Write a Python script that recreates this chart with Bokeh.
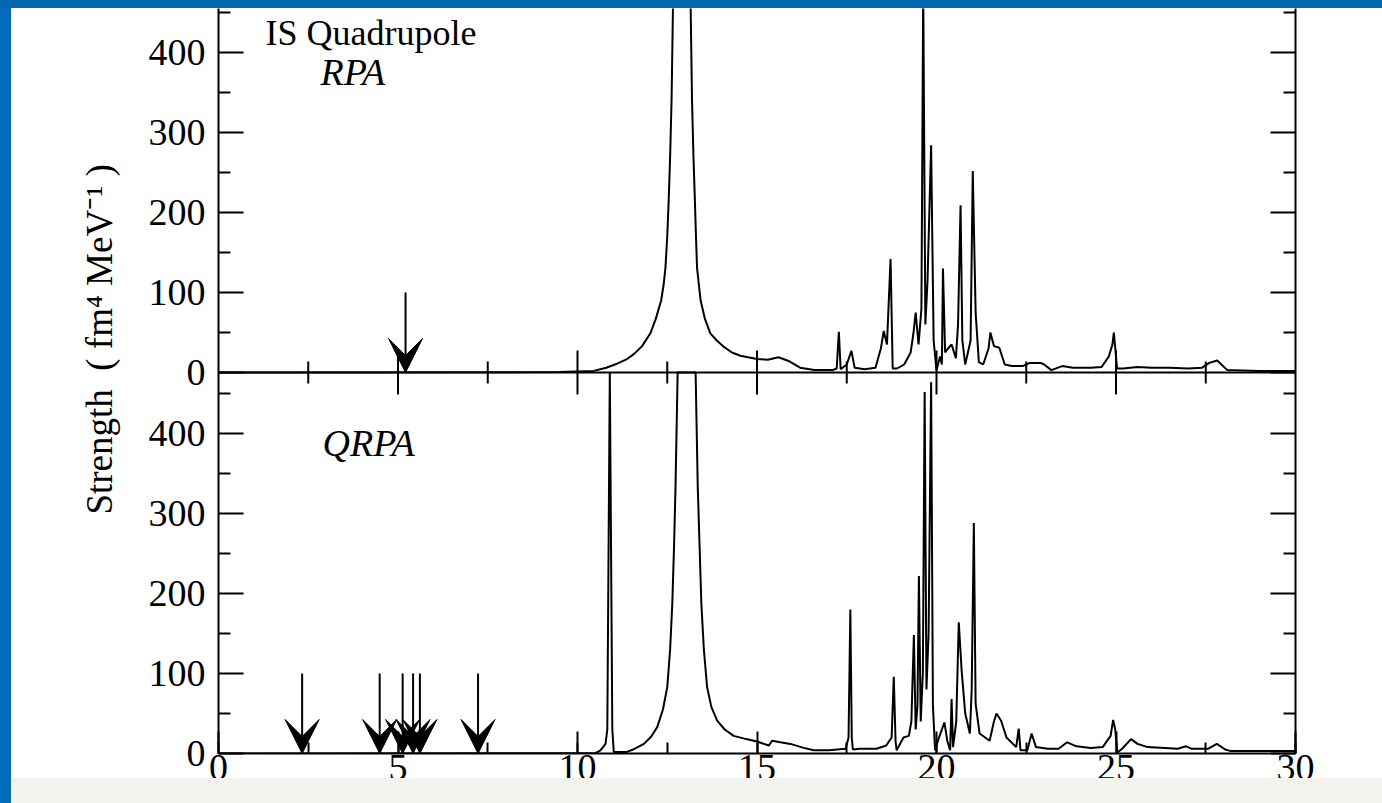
import numpy as np
from bokeh.plotting import figure
from bokeh.layouts import column, row
from bokeh.models import (Range1d, LinearAxis, FixedTicker, SingleIntervalTicker, Span,
                          Arrow, VeeHead, Label, Div)
from bokeh.embed import file_html
from bokeh.resources import INLINE

# ---------------- data ----------------
rpa_x = [0.0, 9.5, 10.45, 10.8, 11.10, 11.35, 11.57, 11.8, 12.03, 12.18, 12.33, 12.40,
         12.45, 12.50, 12.54, 12.58, 12.62, 12.91,
         13.19, 13.23, 13.27, 13.30, 13.33, 13.38, 13.43, 13.55, 13.70, 13.88, 14.08,
         14.3, 14.54, 14.75, 15.0, 15.3, 15.6, 15.9,
         16.2, 16.6, 17.1, 17.22, 17.28, 17.33, 17.5, 17.63, 17.72, 18.0, 18.3,
         18.45, 18.53, 18.62, 18.72, 18.78, 18.9, 19.1, 19.28, 19.36, 19.42, 19.5,
         19.58, 19.63, 19.69, 19.75, 19.85, 19.92, 20.0, 20.1, 20.15, 20.18, 20.24,
         20.32, 20.42, 20.54, 20.6, 20.67, 20.72, 20.8, 20.95, 21.01, 21.09, 21.18,
         21.3, 21.45, 21.5, 21.6, 21.75, 21.9, 22.1, 22.4, 22.6, 22.9, 23.0, 23.2,
         23.5, 23.8, 24.3, 24.6, 24.8, 24.9, 24.94, 24.98, 25.03, 25.2, 25.4, 25.6,
         26.0, 26.5, 27.0, 27.4, 27.6, 27.82, 28.1, 29.0, 30.0]
rpa_y = [0, 0.5, 2, 6, 11, 16, 23, 33, 49, 67, 90, 110,
         131, 170, 215, 270, 340, 1200,
         340, 270, 215, 170, 131, 110, 90, 67, 49, 40, 32,
         25, 21, 19, 17, 16, 19, 14,
         6, 3, 3, 5, 51, 4, 10, 27, 6, 4, 6,
         30, 52, 35, 142, 5, 5, 10, 25, 50, 75, 35,
         80, 480, 60, 115, 284, 40, 3, 20, 10, 130, 25,
         30, 35, 18, 60, 209, 40, 10, 40, 252, 75, 13,
         10, 30, 50, 33, 31, 10, 8, 8, 12, 12, 10, 3,
         8, 6, 6, 7, 20, 35, 50, 30, 5, 5, 6, 7,
         6, 6, 5, 6, 12, 15, 3, 2, 2]

qrpa_x = [0.0, 10.5, 10.64, 10.78, 10.83, 10.90, 10.97, 11.01, 11.38, 11.6, 11.85,
          12.05, 12.22, 12.38, 12.5, 12.58, 12.64, 12.69, 12.73, 12.79, 13.04,
          13.29, 13.35, 13.40, 13.45, 13.52, 13.61, 13.73, 13.89, 14.1, 14.35, 14.7,
          15.0, 15.33, 15.42, 15.65, 15.93, 16.3, 16.58, 17.0, 17.47, 17.55, 17.60,
          17.64, 17.67, 17.86, 18.33, 18.6, 18.75, 18.81, 18.86, 18.89, 19.08, 19.23,
          19.3, 19.37, 19.42, 19.47, 19.51, 19.56, 19.62, 19.67, 19.72, 19.78, 19.85,
          19.9, 19.96, 20.07, 20.22, 20.3, 20.38, 20.42, 20.46, 20.55, 20.62, 20.7,
          20.8, 20.93, 20.98, 21.04, 21.09, 21.2, 21.48, 21.6, 21.67, 21.8, 21.95,
          22.22, 22.29, 22.34, 22.53, 22.65, 22.77, 23.1, 23.4, 23.64, 23.9, 24.3,
          24.63, 24.85, 24.92, 24.98, 25.03, 25.17, 25.42, 25.6, 25.88, 26.72, 26.95,
          27.1, 27.57, 27.81, 28.04, 28.2, 30.0]
qrpa_y = [0, 0.5, 4, 12, 30, 700, 30, 2, 2, 6, 12,
          21, 33, 55, 83, 130, 187, 260, 333, 479, 1500,
          479, 333, 260, 187, 130, 83, 58, 41, 30, 22, 18,
          15, 10, 16, 14, 12, 7, 4, 4, 6, 20, 180,
          20, 5, 6, 6, 10, 20, 96, 15, 4, 20, 22,
          40, 148, 30, 60, 222, 40, 100, 452, 80, 150, 464,
          60, 4, 20, 39, 16, 4, 68, 8, 40, 164, 104,
          50, 25, 80, 288, 62, 25, 16, 40, 50, 41, 20,
          8, 31, 4, 4, 25, 8, 6, 6, 14, 9, 7,
          8, 22, 42, 30, 1, 6, 18, 12, 8, 6, 9,
          6, 6, 12, 5, 3, 3]

rpa_arrows = [5.21]
qrpa_arrows = [2.33, 4.49, 5.13, 5.42, 5.61, 7.23]
arrow_top = 100

x_major = [0, 5, 10, 15, 20, 25, 30]
y_major = [0, 100, 200, 300, 400]
y_minor = [50, 150, 250, 350, 450]
top_ymax = 455.0

# ---------------- geometry (page pixels) ----------------
W, H = 1382, 803
BAR, STRIP, FOOT = 8, 11, 25          # blue top bar, blue left strip, grey footer
FL, FR, FT, FB, MID = 218, 1295, 8, 753, 372
XMIN, XMAX = 0, 30
PXU = 0.8                     # pixels per strength unit
bot_ymax = (FB - MID) / PXU   # 476.25
y_total = (FB - FT) / PXU
off = bot_ymax                # top panel zero in bottom-panel units


def px_x(px):
    return XMIN + (px - FL) / (FR - FL) * (XMAX - XMIN)


def px_y(py):
    return (FB - py) / PXU


FONT = "Liberation Serif"
FS = "38px"

PW, PH = W - STRIP, H - BAR
p = figure(width=PW, height=PH, output_backend="svg", toolbar_location=None,
           x_range=Range1d(XMIN, XMAX), y_range=Range1d(0, y_total),
           x_axis_location=None, y_axis_location=None,
           min_border_left=FL - STRIP, min_border_right=W - FR,
           min_border_top=FT - BAR, min_border_bottom=H - FB)
p.extra_y_ranges = {"top": Range1d(-off, top_ymax)}
p.outline_line_color = None
p.xgrid.visible = False
p.ygrid.visible = False
p.background_fill_color = "white"
p.border_fill_color = "white"

yt = FixedTicker(ticks=y_major + [off + t for t in y_major],
                 minor_ticks=y_minor + [off + t for t in y_minor])
overrides = {off + t: str(t) for t in y_major}


def style(ax, tin, mtin):
    ax.axis_line_width = 2
    ax.axis_line_color = "black"
    ax.major_tick_line_width = 2
    ax.minor_tick_line_width = 2
    ax.major_tick_line_color = "black"
    ax.minor_tick_line_color = "black"
    ax.major_tick_in = tin
    ax.major_tick_out = 0
    ax.minor_tick_in = mtin
    ax.minor_tick_out = 0
    ax.major_label_text_font = FONT
    ax.major_label_text_font_size = FS
    ax.major_label_text_color = "black"


left = LinearAxis(ticker=yt, major_label_overrides=overrides)
style(left, 25, 12)
left.major_label_standoff = 13
left.axis_label = "\u00a0" * 9 + "Strength\u00a0\u00a0(\u00a0fm\u2074\u00a0MeV\u207b\u00b9\u00a0)"
left.axis_label_text_font = FONT
left.axis_label_text_font_size = "37px"
left.axis_label_text_font_style = "normal"
left.axis_label_text_color = "black"
left.axis_label_standoff = 26
p.add_layout(left, "left")

right = LinearAxis(ticker=yt)
style(right, 25, 12)
right.major_label_text_color = None
right.major_label_text_font_size = "1px"
p.add_layout(right, "right")

bottom = LinearAxis(ticker=SingleIntervalTicker(interval=5, num_minor_ticks=2))
style(bottom, 22, 11)
bottom.major_label_standoff = 1
p.add_layout(bottom, "below")

# divider between the two panels, with ticks of both panels
p.add_layout(Span(location=0, dimension="width", y_range_name="top",
                  line_color="black", line_width=2))
tick_x = [v * 2.5 for v in range(1, 12)]
tick_len = [(22 if (v % 2 == 0) else 11) / PXU for v in range(1, 12)]
p.segment(x0=tick_x, x1=tick_x, y0=[-l for l in tick_len], y1=tick_len,
          y_range_name="top", line_color="black", line_width=2)

# curves
p.line(rpa_x, rpa_y, y_range_name="top", line_color="black", line_width=2)
p.line(qrpa_x, list(np.minimum(qrpa_y, bot_ymax)), line_color="black", line_width=2)

# arrows
for xa in rpa_arrows:
    p.add_layout(Arrow(end=VeeHead(size=34, fill_color="black", line_color="black"),
                       x_start=xa, y_start=arrow_top, x_end=xa, y_end=0,
                       y_range_name="top", line_color="black", line_width=2))
for xa in qrpa_arrows:
    p.add_layout(Arrow(end=VeeHead(size=34, fill_color="black", line_color="black"),
                       x_start=xa, y_start=arrow_top, x_end=xa, y_end=0,
                       line_color="black", line_width=2))

# texts
p.add_layout(Label(x=px_x(265), y=px_y(12), text="IS Quadrupole", text_font=FONT,
                   text_font_size="36px", text_baseline="top", text_color="black"))
p.add_layout(Label(x=px_x(320), y=px_y(92), text="RPA", text_font=FONT,
                   text_font_size=FS, text_font_style="italic", text_color="black"))
p.add_layout(Label(x=px_x(322), y=px_y(463), text="QRPA", text_font=FONT,
                   text_font_size=FS, text_font_style="italic", text_color="black"))

# slide decorations: blue frame and grey footer strip
top_bar = Div(text="", width=W, height=BAR, margin=0,
              styles={"background-color": "#0066b0"})
left_strip = Div(text="", width=STRIP, height=PH, margin=0,
                 styles={"background-color": "#006cbb"})
footer = Div(text="", width=PW, height=FOOT, margin=(-FOOT, 0, 0, 0),
             styles={"background-color": "#f2f2ee", "position": "relative",
                     "z-index": "10"})

layout = column(top_bar,
                row(left_strip, column(p, footer, spacing=0), spacing=0),
                spacing=0)

open("out.html", "w").write(file_html(layout, INLINE))
